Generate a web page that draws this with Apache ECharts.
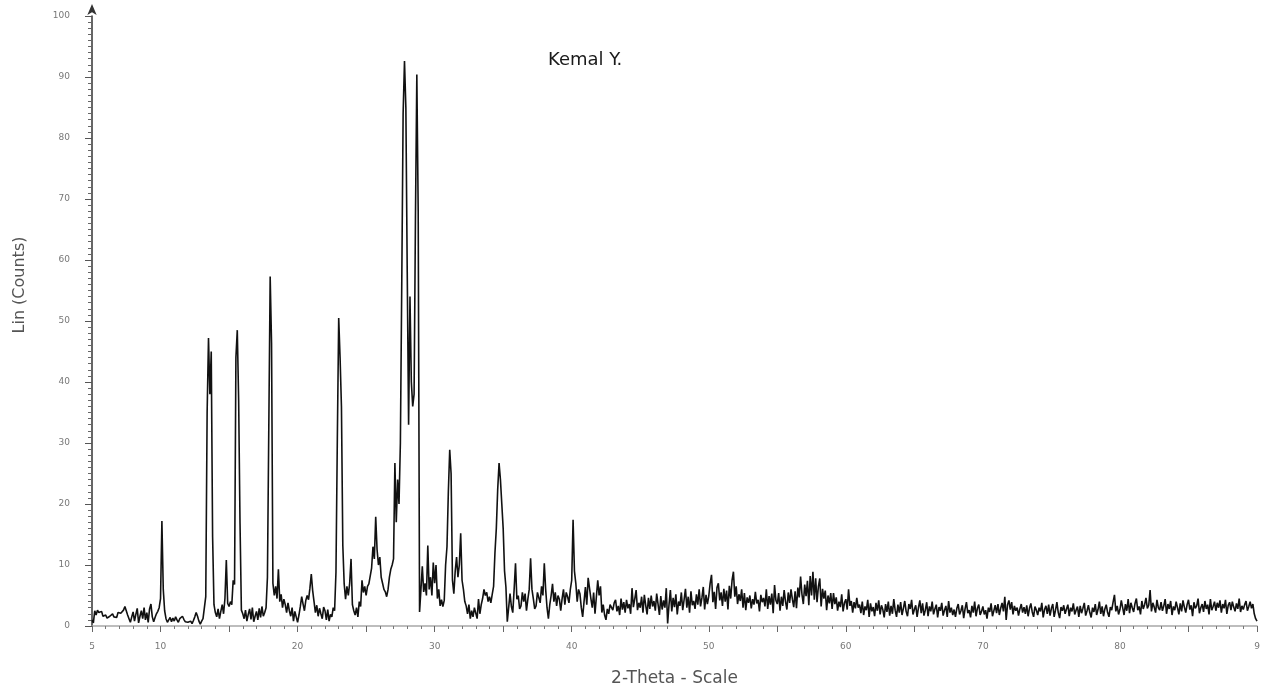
<!DOCTYPE html>
<html>
<head>
<meta charset="utf-8">
<script src="https://cdn.jsdelivr.net/npm/echarts@6/dist/echarts.min.js"></script>
<style>
html,body{margin:0;padding:0;background:#fff;}
#chart{width:1266px;height:697px;}
</style>
</head>
<body>
<div id="chart"></div>
<script>
// ---- data (2-Theta scan, 0.1 deg step starting at 5.0 deg) ----
const chartTitle = 'Kemal Y.';
const xAxisName = '2-Theta - Scale';
const yAxisName = 'Lin (Counts)';
const startAngle = 5.0;
const stepAngle = 0.1;
const xTickValues = [5, 10, 20, 30, 40, 50, 60, 70, 80, 90];
const xTickLabels = ['5', '10', '20', '30', '40', '50', '60', '70', '80', '9'];
const yTickLabels = ['0', '10', '20', '30', '40', '50', '60', '70', '80', '90', '100'];

const counts = [
  /* 5 */ 1.0,0.5,2.5,1.8,2.6,2.2,1.9,2.4,1.6,1.5,
  /* 6 */ 1.8,1.3,1.2,1.6,1.9,2.0,1.5,1.7,1.4,2.2,
  /* 7 */ 2.0,2.1,2.4,2.6,3.2,2.5,1.8,1.2,0.6,1.5,
  /* 8 */ 2.3,0.8,1.9,2.9,0.5,1.6,2.5,1.2,3.0,1.0,
  /* 9 */ 2.2,0.6,2.8,3.6,1.5,0.7,1.4,2.0,2.4,3.0,
  /*10 */ 4.5,17.2,6.0,2.5,1.2,0.6,0.9,1.4,0.7,1.3,
  /*11 */ 0.8,1.5,1.0,0.6,1.2,0.9,1.6,1.1,0.7,1.0,
  /*12 */ 0.6,0.5,0.8,0.4,0.9,1.5,2.2,1.6,0.8,0.3,
  /*13 */ 0.8,1.2,1.5,4.8,35.0,47.2,38.0,45.0,14.6,3.5,
  /*14 */ 2.2,1.5,2.8,1.2,2.4,3.5,2.0,4.5,10.8,3.7,
  /*15 */ 3.2,4.0,3.5,7.5,6.8,44.0,48.5,37.0,16.8,2.6,
  /*16 */ 2.0,1.2,2.6,0.8,1.9,2.8,1.1,3.0,0.7,1.6,
  /*17 */ 2.4,1.0,2.9,1.4,3.2,1.6,2.2,3.0,8.0,8.2,
  /*18 */ 57.3,46.4,7.0,5.0,6.5,4.5,9.3,4.0,5.2,3.0,
  /*19 */ 4.4,3.5,2.2,3.8,2.5,1.6,3.0,0.8,2.4,1.5,
  /*20 */ 0.6,1.8,3.2,4.8,3.6,2.5,4.2,5.0,4.3,6.2,
  /*21 */ 8.5,5.8,4.0,2.2,3.4,1.6,2.9,2.0,1.2,3.1,
  /*22 */ 2.5,1.0,2.7,0.8,1.9,1.5,3.0,2.5,8.8,30.7,
  /*23 */ 50.5,44.0,36.0,13.2,6.9,4.4,6.5,5.0,7.0,11.0,
  /*24 */ 3.5,2.5,1.8,3.0,1.5,4.0,3.2,7.5,5.5,6.5,
  /*25 */ 5.0,6.5,6.9,7.0,9.5,13.0,11.0,17.9,12.5,10.0,
  /*26 */ 11.3,8.0,7.0,6.0,5.6,4.8,6.0,8.0,9.3,10.0,
  /*27 */ 11.0,26.7,17.0,24.0,20.0,30.0,56.0,84.0,92.6,85.0,
  /*28 */ 58.0,33.0,54.0,40.0,36.0,38.0,67.0,90.4,68.0,2.3,
  /*29 */ 6.0,9.8,5.6,7.0,5.0,13.2,6.0,8.0,5.0,10.4,
  /*30 */ 7.0,10.0,4.5,6.0,3.3,4.3,3.2,4.2,10.0,13.0,
  /*31 */ 22.0,28.9,25.0,7.5,5.3,9.0,11.3,8.0,10.0,15.2,
  /*32 */ 7.5,6.0,4.0,3.3,2.0,3.5,1.2,2.5,1.5,3.0,
  /*33 */ 2.8,1.2,4.4,2.0,3.5,4.5,6.0,5.0,5.5,4.0,
  /*34 */ 4.8,3.8,5.2,6.5,12.0,16.0,22.4,26.7,24.0,20.0,
  /*35 */ 16.0,9.0,6.4,0.7,3.0,5.3,3.2,2.2,6.0,10.3,
  /*36 */ 4.4,5.0,2.8,3.3,5.5,4.0,5.3,2.5,4.4,6.0,
  /*37 */ 11.1,6.0,4.5,2.8,3.3,5.5,5.3,3.8,6.5,5.0,
  /*38 */ 10.3,6.0,3.0,1.2,3.5,5.0,6.9,4.0,5.5,3.3,
  /*39 */ 5.0,4.4,2.5,4.5,6.0,3.5,5.5,4.8,3.8,6.0,
  /*40 */ 7.5,17.4,9.0,7.0,4.0,6.0,5.3,3.0,1.5,4.0,
  /*41 */ 6.4,3.5,7.9,8.0,4.5,3.0,5.5,2.0,4.8,7.5,
  /*42 */ 5.0,6.5,2.2,3.5,1.8,1.0,2.8,2.0,3.5,3.3,
  /*43 */ 2.6,3.8,4.3,2.4,3.3,1.8,4.5,2.7,3.9,2.2,
  /*44 */ 4.3,2.9,3.6,2.0,6.2,3.1,4.4,5.9,2.6,3.8,
  /*45 */ 3.0,4.8,2.2,5.1,3.4,1.9,4.6,2.8,5.0,3.2,
  /*46 */ 4.1,2.5,5.3,3.6,1.8,4.9,2.7,4.2,3.0,6.2,
  /*47 */ 0.4,3.5,5.9,2.4,4.6,3.1,5.2,1.9,4.0,3.3,
  /*48 */ 5.5,2.6,4.3,6.1,3.0,4.8,2.2,5.7,3.4,4.1,
  /*49 */ 2.8,5.2,3.5,6.0,3.2,4.6,6.4,2.7,5.1,3.6,
  /*50 */ 4.9,7.0,8.4,3.9,5.6,2.8,6.3,7.0,4.2,5.5,
  /*51 */ 3.3,6.1,4.0,5.8,2.7,6.6,4.5,7.5,8.9,4.8,
  /*52 */ 6.5,3.6,5.2,4.1,6.0,3.0,5.4,2.6,4.7,3.8,
  /*53 */ 5.0,2.9,4.4,3.5,5.6,3.7,4.3,2.4,5.1,3.9,
  /*54 */ 4.6,3.2,6.0,2.8,4.9,3.5,5.3,2.1,6.7,4.2,
  /*55 */ 3.6,5.4,2.5,4.8,3.3,5.9,4.0,2.7,5.5,3.8,
  /*56 */ 6.0,4.4,3.1,5.7,2.9,6.3,4.7,8.1,5.2,3.6,
  /*57 */ 6.8,4.9,7.4,3.4,8.2,5.0,8.9,4.3,7.8,3.9,
  /*58 */ 6.5,7.8,3.2,6.1,4.5,5.8,2.6,5.0,3.7,5.4,
  /*59 */ 2.8,5.4,3.6,4.7,2.5,4.0,3.1,5.2,2.4,3.8,
  /*60 */ 4.4,2.7,6.0,3.3,4.1,2.2,3.9,2.9,4.6,3.0,
  /*61 */ 3.5,2.1,4.0,1.8,3.2,2.6,4.3,1.5,3.7,2.4,
  /*62 */ 3.1,1.6,3.8,2.5,4.2,1.9,3.4,2.7,1.4,3.6,
  /*63 */ 2.3,4.0,1.7,3.3,2.0,4.4,2.6,1.5,3.5,2.2,
  /*64 */ 3.9,1.8,2.9,4.1,2.4,1.6,3.6,2.8,4.3,1.9,
  /*65 */ 2.7,3.4,1.5,3.0,4.2,2.1,3.7,1.7,2.6,3.9,
  /*66 */ 1.6,3.2,2.4,4.0,1.9,2.8,3.5,1.4,3.1,2.5,
  /*67 */ 3.8,1.7,2.6,3.3,1.5,4.1,2.2,3.0,1.8,2.7,
  /*68 */ 1.5,2.9,3.6,1.9,2.5,3.4,1.3,2.8,3.9,2.1,
  /*69 */ 2.6,1.4,3.3,2.2,4.0,1.6,2.9,3.5,1.8,2.4,
  /*70 */ 3.2,1.9,2.6,1.2,3.0,2.3,3.7,1.6,2.5,3.4,
  /*71 */ 2.1,3.6,1.8,2.9,3.8,2.4,4.8,1.0,3.5,4.2,
  /*72 */ 2.7,3.9,1.9,3.3,2.5,3.0,1.7,2.8,3.6,2.2,
  /*73 */ 3.1,2.0,3.4,1.6,2.9,3.7,2.3,1.5,3.2,2.6,
  /*74 */ 1.8,3.0,2.4,3.8,1.4,2.7,3.3,2.0,3.5,1.7,
  /*75 */ 2.9,3.6,1.5,2.6,3.9,2.2,1.3,3.1,2.5,3.4,
  /*76 */ 2.0,2.8,3.5,1.6,3.0,2.4,3.7,1.9,2.6,3.2,
  /*77 */ 1.5,3.3,2.1,2.9,3.8,1.7,2.5,3.4,2.2,1.4,
  /*78 */ 3.0,2.3,3.6,1.8,2.7,4.0,2.0,3.2,1.6,2.8,
  /*79 */ 3.5,2.2,1.5,3.1,2.6,3.9,5.1,2.4,3.3,1.9,
  /*80 */ 2.7,4.2,3.0,1.8,3.6,2.5,4.4,2.1,3.8,3.0,
  /*81 */ 2.3,3.7,4.5,2.6,3.2,1.9,4.1,2.8,3.5,4.6,
  /*82 */ 2.9,3.4,5.9,2.4,3.8,3.1,2.2,4.3,3.0,2.6,
  /*83 */ 3.9,2.5,3.3,4.4,2.0,3.6,2.8,4.1,1.8,3.2,
  /*84 */ 2.6,4.0,3.0,1.9,3.7,2.4,4.2,3.1,2.2,3.5,
  /*85 */ 4.3,2.7,3.4,1.6,3.9,2.9,3.3,4.5,2.1,3.0,
  /*86 */ 3.6,2.3,4.1,2.8,3.5,1.9,4.4,2.6,3.2,4.0,
  /*87 */ 2.5,3.8,3.0,4.2,2.2,3.6,2.9,4.3,2.0,3.4,
  /*88 */ 3.9,2.6,4.0,3.1,2.4,3.7,2.8,4.5,2.3,3.3,
  /*89 */ 2.7,3.5,4.1,2.5,3.2,4.0,2.9,3.6,2.0,1.2,
  /*90 */ 0.8
];

// ---- build the scan points ----
const scan = counts.map((c, i) => [Math.round((startAngle + i * stepAngle) * 100) / 100, c]);

const FONT = 'DejaVu Sans';
const chart = echarts.init(document.getElementById('chart'), null, { renderer: 'canvas' });
chart.setOption({
  animation: false,
  backgroundColor: '#ffffff',
  title: {
    text: chartTitle,
    left: 543,
    top: 46,
    textStyle: { fontFamily: FONT, fontSize: 18, fontWeight: 'normal', color: '#1a1a1a' }
  },
  grid: { left: 92, right: 9, top: 16, bottom: 71, containLabel: false },
  xAxis: {
    type: 'value',
    min: 5,
    max: 90,
    interval: 5,
    name: xAxisName,
    nameLocation: 'middle',
    nameGap: 44,
    nameTextStyle: { fontFamily: FONT, fontSize: 17, color: '#555555' },
    axisLine: { show: true, onZero: false, lineStyle: { color: '#a8a8a8', width: 1.5 } },
    axisTick: { show: true, length: 6, lineStyle: { color: '#666666', width: 1 } },
    minorTick: { show: true, splitNumber: 5, length: 3, lineStyle: { color: '#777777', width: 1 } },
    splitLine: { show: false },
    axisLabel: {
      margin: 16,
      fontFamily: FONT,
      fontSize: 9,
      color: '#777777',
      showMinLabel: true,
      showMaxLabel: true,
      formatter: function (v) {
        const idx = xTickValues.indexOf(Math.round(v));
        return idx >= 0 ? xTickLabels[idx] : '';
      }
    }
  },
  yAxis: {
    type: 'value',
    min: 0,
    max: 100,
    interval: 10,
    name: yAxisName,
    nameLocation: 'middle',
    nameRotate: 90,
    nameGap: 64,
    nameTextStyle: { fontFamily: FONT, fontSize: 16, color: '#555555', padding: [0, 0, 0, 72] },
    axisLine: {
      show: true,
      lineStyle: { color: '#333333', width: 1.5 },
      symbol: ['none', 'arrow'],
      symbolSize: [7, 11],
      symbolOffset: [0, 12]
    },
    axisTick: { show: true, length: 7, lineStyle: { color: '#555555', width: 1 } },
    minorTick: { show: true, splitNumber: 10, length: 4, lineStyle: { color: '#666666', width: 1 } },
    splitLine: { show: false },
    axisLabel: {
      margin: 22,
      fontFamily: FONT,
      fontSize: 9,
      color: '#777777',
      formatter: function (v) { return yTickLabels[Math.round(v / 10)]; }
    }
  },
  series: [{
    type: 'line',
    data: scan,
    showSymbol: false,
    symbol: 'none',
    smooth: false,
    clip: true,
    lineStyle: { color: '#111111', width: 1.6 }
  }]
});
</script>
</body>
</html>
